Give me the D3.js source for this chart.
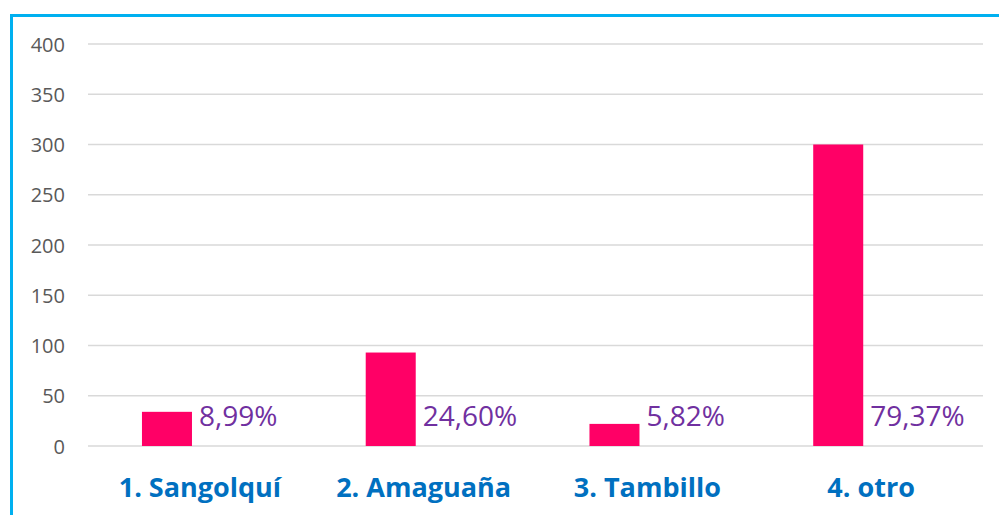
<!DOCTYPE html>
<html>
<head>
<meta charset="utf-8">
<script src="https://cdn.jsdelivr.net/npm/d3@7"></script>
<style>
  html, body { margin: 0; padding: 0; background: #fff; overflow: hidden; }
  svg { display: block; }
</style>
</head>
<body>
<svg id="chart" width="999" height="515"></svg>
<script>
// Respondents by parish, with each parish's share
const categories = ["1. Sangolquí", "2. Amaguaña", "3. Tambillo", "4. otro"];
const counts = [34, 93, 22, 300];
const shareLabels = ["8,99%", "24,60%", "5,82%", "79,37%"];
const yTicks = [0, 50, 100, 150, 200, 250, 300, 350, 400];

const W = 999, H = 515;
const plot = { left: 88, right: 983, top: 44, bottom: 446 };

const svg = d3.select("#chart");
svg.append("rect").attr("width", W).attr("height", H).attr("fill", "#fff");

// Frame
svg.append("rect")
  .attr("x", 11.5).attr("y", 15.5)
  .attr("width", W + 20).attr("height", H + 20)
  .attr("fill", "none")
  .attr("stroke", "#00B0F0")
  .attr("stroke-width", 3);

const y = d3.scaleLinear().domain([0, 400]).range([plot.bottom, plot.top]);
const x = d3.scaleBand().domain(categories).range([plot.left, plot.right]).paddingInner(0).paddingOuter(0);
// Each category holds two slots: the count bar and its share label
const xs = d3.scaleBand().domain(["count", "share"]).range([0, x.bandwidth()])
  .paddingInner(0.24).paddingOuter(0.82);

// Gridlines
svg.append("g")
  .selectAll("line")
  .data(yTicks)
  .join("line")
  .attr("x1", plot.left).attr("x2", plot.right)
  .attr("y1", d => y(d)).attr("y2", d => y(d))
  .attr("stroke", "#D9D9D9")
  .attr("stroke-width", 1.5);

// Y axis labels
const yAxis = d3.axisLeft(y).tickValues(yTicks).tickSize(0).tickPadding(0);
const yg = svg.append("g").attr("transform", "translate(65,0)").call(yAxis);
yg.select(".domain").remove();
yg.selectAll("text")
  .attr("font-family", "'Open Sans', sans-serif")
  .attr("font-size", 20)
  .attr("fill", "#595959")
  .attr("dy", "0.36em");

// Bars
const data = categories.map((c, i) => ({ cat: c, n: counts[i], label: shareLabels[i] }));
svg.append("g")
  .selectAll("rect")
  .data(data)
  .join("rect")
  .attr("x", d => x(d.cat) + xs("count"))
  .attr("width", xs.bandwidth())
  .attr("y", d => y(d.n))
  .attr("height", d => y(0) - y(d.n))
  .attr("fill", "#FF0066");

// Share labels beside each bar
svg.append("g")
  .selectAll("text")
  .data(data)
  .join("text")
  .attr("x", d => x(d.cat) + xs("count") + xs.bandwidth() + 7)
  .attr("y", 426)
  .attr("font-family", "'Open Sans', sans-serif")
  .attr("font-size", 28)
  .attr("fill", "#7030A0")
  .text(d => d.label);

// Category axis
const xAxis = d3.axisBottom(x).tickSize(0).tickPadding(0);
const xg = svg.append("g").attr("transform", "translate(0,497)").call(xAxis);
xg.select(".domain").remove();
xg.selectAll("text")
  .attr("dy", 0)
  .attr("font-family", "'Open Sans', sans-serif")
  .attr("font-weight", "bold")
  .attr("font-size", 27)
  .attr("fill", "#0070C0");
</script>
</body>
</html>
